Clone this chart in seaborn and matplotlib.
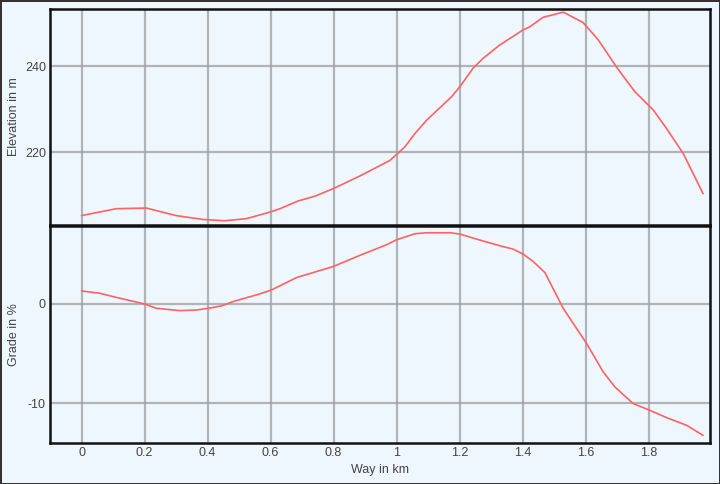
import numpy as np
import pandas as pd
import matplotlib.pyplot as plt
import seaborn as sns

# elevation profile (km, m)
elev_km = [0.0, 0.111, 0.206, 0.30, 0.386, 0.455, 0.524, 0.598, 0.63, 0.688, 0.741,
           0.799, 0.884, 0.979, 1.026, 1.058, 1.095, 1.175, 1.201, 1.243, 1.275,
           1.328, 1.402, 1.423, 1.465, 1.529, 1.592, 1.640, 1.698, 1.725, 1.757,
           1.815, 1.857, 1.910, 1.973]
elev_m = [205.3, 206.9, 207.05, 205.3, 204.4, 204.1, 204.6, 206.1, 206.9, 208.7, 209.8,
          211.55, 214.5, 218.1, 221.2, 224.3, 227.4, 232.9, 235.2, 239.5, 241.8,
          244.9, 248.4, 249.1, 251.3, 252.5, 250.1, 246.1, 239.8, 237.1, 234.0,
          229.8, 225.5, 219.7, 210.4]

# grade profile (km, %)
grade_km = [0.0, 0.058, 0.1, 0.2, 0.238, 0.312, 0.365, 0.402, 0.444, 0.481, 0.566,
            0.603, 0.683, 0.735, 0.799, 0.884, 0.968, 1.0, 1.058, 1.095, 1.169,
            1.201, 1.254, 1.328, 1.370, 1.402, 1.434, 1.471, 1.529, 1.603, 1.656,
            1.693, 1.751, 1.799, 1.857, 1.921, 1.973]
grade_pct = [1.31, 1.08, 0.74, 0.0, -0.44, -0.67, -0.61, -0.44, -0.2, 0.24, 1.01,
             1.41, 2.66, 3.16, 3.77, 4.9, 5.96, 6.46, 7.07, 7.17, 7.17,
             7.04, 6.53, 5.86, 5.52, 5.02, 4.27, 3.16, -0.44, -3.97, -6.84,
             -8.35, -10.03, -10.64, -11.44, -12.22, -13.23]

x_ticks = [0, 0.2, 0.4, 0.6, 0.8, 1.0, 1.2, 1.4, 1.6, 1.8]
x_tick_labels = ["0", "0.2", "0.4", "0.6", "0.8", "1", "1.2", "1.4", "1.6", "1.8"]
elev_ticks = [220, 240]
grade_ticks = [-10, 0]

bg = "#eef6fe"
sns.set_style("white", {"axes.facecolor": bg, "figure.facecolor": bg})
plt.rcParams['font.family'] = ['Liberation Sans', 'DejaVu Sans']

fig = plt.figure(figsize=(7.2, 4.84), dpi=100)
W, H = 720, 484
ax1 = fig.add_axes([50 / W, 1 - 225.5 / H, 660 / W, 216.8 / H])
ax2 = fig.add_axes([50 / W, 1 - 443 / H, 660 / W, 217.5 / H])

df_e = pd.DataFrame({"km": elev_km, "elev": elev_m})
df_g = pd.DataFrame({"km": grade_km, "grade": grade_pct})
line_c = "#ff6262"
sns.lineplot(data=df_e, x="km", y="elev", ax=ax1, color=line_c, linewidth=1.2)
sns.lineplot(data=df_g, x="km", y="grade", ax=ax2, color=line_c, linewidth=1.2)

ax1.set_ylim(203.0, 253.3)
ax2.set_ylim(-14.0, 7.9)
txt_c = "#444444"
for ax, yt in ((ax1, elev_ticks), (ax2, grade_ticks)):
    ax.set_xlim(-0.1, 1.995)
    ax.set_xticks(x_ticks)
    ax.set_yticks(yt)
    ax.set_yticklabels([str(v) for v in yt])
    ax.grid(True, color="#9a9ea2", alpha=0.75, linewidth=1.6)
    ax.set_axisbelow(True)
    ax.tick_params(length=0, labelsize=9, colors=txt_c, pad=3)
    for s in ax.spines.values():
        s.set_color("#111111")
        s.set_linewidth(1.8)
    ax.set_xlabel("")

ax1.set_xticklabels([])
ax2.set_xticklabels(x_tick_labels)
ax1.set_ylabel("Elevation in m", fontsize=9, color=txt_c)
ax2.set_ylabel("Grade in %", fontsize=9, color=txt_c)
ax2.set_xlabel("Way in km", fontsize=9, color=txt_c)
ax1.yaxis.set_label_coords((20 - 50) / 660, 0.5)
ax2.yaxis.set_label_coords((20 - 50) / 660, 0.5)
ax2.xaxis.set_label_coords((380 - 50) / 660, -21 / 217.5)

# outer frame
fig.patch.set_edgecolor("#333333")
fig.patch.set_linewidth(2)

fig.savefig("out.png", dpi=100, facecolor=fig.get_facecolor(), edgecolor=fig.patch.get_edgecolor())
